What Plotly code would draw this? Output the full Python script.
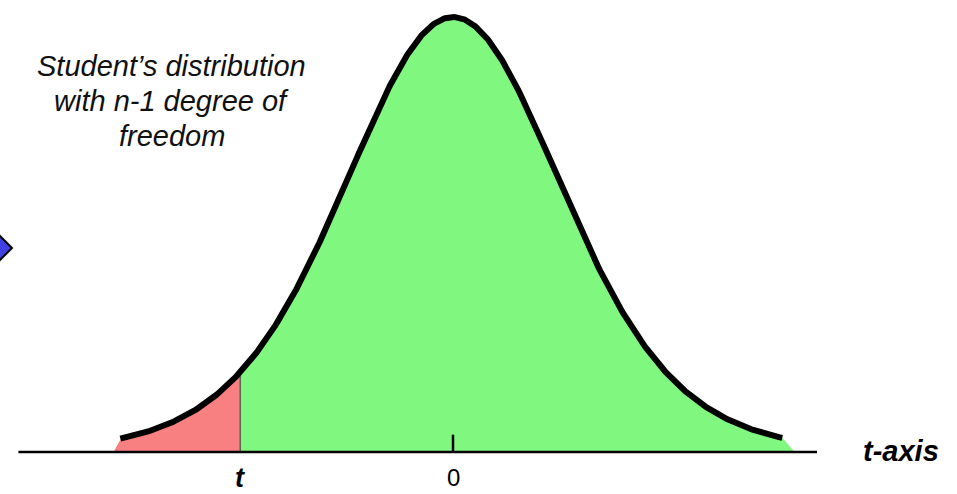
import math
import numpy as np
import plotly.graph_objects as go

# Student's t distribution parameters
DEG_FREEDOM = 10
T_VALUE = -1.9                 # critical value marked as "t"
CURVE_SPAN = [-2.97, 2.94]     # extent of the drawn density curve
FILL_SPAN = [-3.03, 3.05]      # extent of the shaded area along the axis
AXIS_SPAN = [-3.88, 3.25]      # extent of the horizontal axis line
TICK_VALUES = [0]
TICK_TEXT = ["0"]
CAPTION_LINES = ["Student’s distribution", "with n-1 degree of", "freedom"]
AXIS_TITLE = "t-axis"
T_LABEL = "t"

GREEN = "#80F880"
PINK = "#F88080"
FONT = "Liberation Sans, Arial, sans-serif"


def t_pdf(x, nu):
    c = math.gamma((nu + 1) / 2) / (math.sqrt(nu * math.pi) * math.gamma(nu / 2))
    return c * (1 + np.asarray(x) ** 2 / nu) ** (-(nu + 1) / 2)


def region(lo, hi, n=200):
    xs = np.linspace(lo, hi, n)
    return xs, t_pdf(xs, DEG_FREEDOM)


fig = go.Figure()

# pink tail area (left of t)
xs, ys = region(CURVE_SPAN[0], T_VALUE)
fig.add_trace(go.Scatter(
    x=np.concatenate([[FILL_SPAN[0]], xs, [T_VALUE, FILL_SPAN[0]]]),
    y=np.concatenate([[0], ys, [0, 0]]),
    fill="toself", fillcolor=PINK, line=dict(width=0), mode="lines",
    hoverinfo="skip", showlegend=False))

# green area (right of t)
xs, ys = region(T_VALUE, CURVE_SPAN[1], 400)
fig.add_trace(go.Scatter(
    x=np.concatenate([xs, [FILL_SPAN[1], T_VALUE]]),
    y=np.concatenate([ys, [0, 0]]),
    fill="toself", fillcolor=GREEN, line=dict(width=0), mode="lines",
    hoverinfo="skip", showlegend=False))

# thin divider at t
fig.add_trace(go.Scatter(
    x=[T_VALUE, T_VALUE], y=[0, float(t_pdf(T_VALUE, DEG_FREEDOM))],
    mode="lines", line=dict(color="#303030", width=1),
    hoverinfo="skip", showlegend=False))

# horizontal axis
fig.add_trace(go.Scatter(
    x=AXIS_SPAN, y=[0, 0], mode="lines", line=dict(color="black", width=2.5),
    hoverinfo="skip", showlegend=False))

# tick mark at 0
for v in TICK_VALUES:
    fig.add_trace(go.Scatter(
        x=[v, v], y=[0, 0.0155], mode="lines", line=dict(color="black", width=2.5),
        hoverinfo="skip", showlegend=False))

# density curve
xs, ys = region(CURVE_SPAN[0], CURVE_SPAN[1], 600)
fig.add_trace(go.Scatter(
    x=xs, y=ys, mode="lines", line=dict(color="black", width=6),
    hoverinfo="skip", showlegend=False))

annotations = []
for v, txt in zip(TICK_VALUES, TICK_TEXT):
    annotations.append(dict(x=v, xref="x", y=0.034, yref="paper", text=txt,
                            showarrow=False, xanchor="center", yanchor="middle",
                            font=dict(family=FONT, size=24, color="black")))
annotations.append(dict(x=T_VALUE, xref="x", y=0.032, yref="paper",
                        text="<b><i>%s</i></b>" % T_LABEL, showarrow=False,
                        xanchor="center", yanchor="middle",
                        font=dict(family=FONT, size=27, color="black")))
annotations.append(dict(x=4.0, xref="x", y=0.087, yref="paper",
                        text="<b><i>%s</i></b>" % AXIS_TITLE, showarrow=False,
                        xanchor="center", yanchor="middle",
                        font=dict(family=FONT, size=29, color="black")))
for i, line in enumerate(CAPTION_LINES):
    annotations.append(dict(x=0.1797, xref="paper", y=0.8674 - i * 0.0709, yref="paper",
                            text="<i>%s</i>" % line, showarrow=False,
                            xanchor="center", yanchor="middle",
                            font=dict(family=FONT, size=29, color="#111111")))

# blue pointer on the left edge
def px(x, y):
    return "%.5f,%.5f" % (x / 957, 1 - y / 494)

diamond = "M %s L %s L %s L %s Z" % (px(-14, 248), px(-1, 235), px(12, 248), px(-1, 261))

fig.update_layout(
    width=957, height=494,
    margin=dict(l=0, r=0, t=0, b=0),
    paper_bgcolor="white", plot_bgcolor="white",
    xaxis=dict(range=[-4.0446, 4.5], visible=False, fixedrange=True),
    yaxis=dict(range=[-0.03757, 0.40433], visible=False, fixedrange=True),
    annotations=annotations,
    shapes=[dict(type="path", path=diamond, xref="paper", yref="paper",
                 fillcolor="#4040E0", line=dict(color="black", width=2))],
)

fig.write_html("out.html")
